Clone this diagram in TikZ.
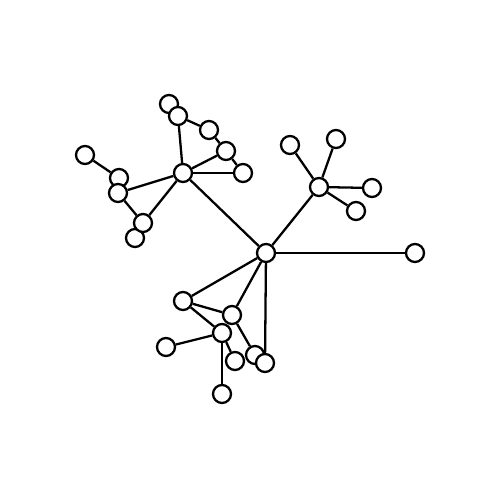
\documentclass[tikz,border=0pt]{standalone}
\usetikzlibrary{backgrounds}
\begin{document}
\begin{tikzpicture}[x=0.02cm,y=-0.02cm,
  nd/.style={circle,draw=black,fill=white,line width=1.3pt,minimum size=0.36cm,inner sep=0pt},
  ed/.style={line width=1.3pt}]
\useasboundingbox (0,0) rectangle (500,500);
% hubs
\node[nd] (h1) at (183,173) {};
\node[nd] (h2) at (266,253) {};
\node[nd] (h3) at (319,187) {};
% cluster 1
\node[nd] (a1) at (169,104) {};
\node[nd] (a2) at (178,116) {};
\node[nd] (b) at (209,130) {};
\node[nd] (c) at (226,151) {};
\node[nd] (d) at (243,173) {};
\node[nd] (e) at (85,155) {};
\node[nd] (f1) at (119,178) {};
\node[nd] (f2) at (118,193) {};
\node[nd] (g2) at (135,238) {};
\node[nd] (g1) at (143,223) {};
% cluster 3
\node[nd] (p1) at (290,145) {};
\node[nd] (p2) at (336,139) {};
\node[nd] (p3) at (372,188) {};
\node[nd] (p4) at (356,211) {};
\node[nd] (p5) at (415,253) {};
% cluster 2
\node[nd] (q1) at (183,301) {};
\node[nd] (q2) at (232,315) {};
\node[nd] (q3) at (222,333) {};
\node[nd] (q4) at (166,347) {};
\node[nd] (q5) at (235,361) {};
\node[nd] (q6a) at (255,355) {};
\node[nd] (q6b) at (265,363) {};
\node[nd] (q7) at (222,394) {};
\begin{scope}[on background layer]
\draw[ed] (h1) -- (h2);
\draw[ed] (h2) -- (h3);
\draw[ed] (h2) -- (p5);
\draw[ed] (h1) -- (a2);
\draw[ed] (a2) -- (b);
\draw[ed] (b) -- (c);
\draw[ed] (c) -- (h1);
\draw[ed] (c) -- (d);
\draw[ed] (h1) -- (d);
\draw[ed] (e) -- (f1);
\draw[ed] (f2) -- (h1);
\draw[ed] (f2) -- (g1);
\draw[ed] (g1) -- (h1);
\draw[ed] (h3) -- (p1);
\draw[ed] (h3) -- (p2);
\draw[ed] (h3) -- (p3);
\draw[ed] (h3) -- (p4);
\draw[ed] (h2) -- (q1);
\draw[ed] (h2) -- (q2);
\draw[ed] (h2) -- (q6b);
\draw[ed] (q1) -- (q2);
\draw[ed] (q1) -- (q3);
\draw[ed] (q2) -- (q6a);
\draw[ed] (q3) -- (q4);
\draw[ed] (q3) -- (q5);
\draw[ed] (q3) -- (q7);
\end{scope}
\end{tikzpicture}
\end{document}
